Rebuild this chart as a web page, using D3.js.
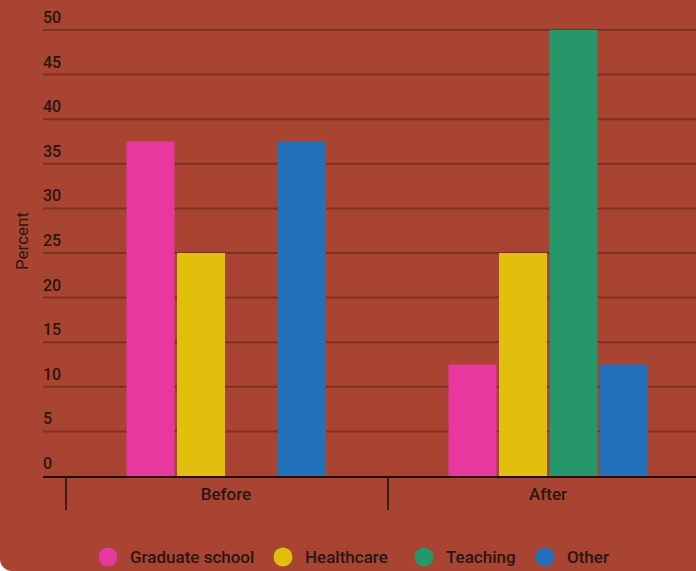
<!DOCTYPE html>
<html>
<head>
<meta charset="utf-8">
<script src="https://cdn.jsdelivr.net/npm/d3@7"></script>
<style>
  html, body { margin: 0; padding: 0; background: #ffffff; }
  svg { display: block; font-family: Roboto, "Noto Sans", sans-serif; }
</style>
</head>
<body>
<svg id="chart" width="696" height="571"></svg>
<script>
const categories = ["Before", "After"];
const seriesNames = ["Graduate school", "Healthcare", "Teaching", "Other"];
const graduateSchool = [37.5, 12.5];
const healthcare = [25, 25];
const teaching = [0, 50];
const other = [37.5, 12.5];
const yTicks = [0, 5, 10, 15, 20, 25, 30, 35, 40, 45, 50];
const colors = ["#e8389f", "#e1c00d", "#25976a", "#2271ba"];

const seriesValues = [graduateSchool, healthcare, teaching, other];

const W = 696, H = 571;
const svg = d3.select("#chart");

// background with rounded bottom-left corner
svg.append("rect").attr("x", 0).attr("y", -30).attr("width", W + 30).attr("height", H + 30)
  .attr("rx", 12).attr("fill", "#a84431");

const y = d3.scaleLinear().domain([0, 50]).range([476, 30]);
const x0 = d3.scaleBand().domain(categories).range([66, 710]).padding(0);
const x1 = d3.scaleBand().domain(seriesNames).range([60.5, 260]).paddingInner(0.05).paddingOuter(0);

const textColor = "#2b1610";

// gridlines
svg.append("g").selectAll("line").data(yTicks.filter(d => d > 0)).join("line")
  .attr("x1", 43).attr("x2", W)
  .attr("y1", d => y(d)).attr("y2", d => y(d))
  .attr("stroke", "#80301f").attr("stroke-width", 2);

// y tick labels
svg.append("g").selectAll("text").data(yTicks).join("text")
  .attr("x", 43).attr("y", d => y(d) - 7)
  .attr("font-size", 16).attr("font-weight", 500).attr("fill", textColor)
  .text(d => d);

// y axis title
svg.append("text")
  .attr("transform", "translate(28,241) rotate(-90)")
  .attr("text-anchor", "middle").attr("font-size", 17).attr("fill", textColor)
  .text("Percent");

// bars
const groups = svg.append("g").selectAll("g").data(categories).join("g")
  .attr("transform", d => `translate(${x0(d)},0)`);
groups.selectAll("rect")
  .data((c, ci) => seriesNames.map((s, si) => ({ s, si, v: seriesValues[si][ci] })))
  .join("rect")
  .attr("x", d => x1(d.s))
  .attr("width", x1.bandwidth())
  .attr("y", d => y(d.v))
  .attr("height", d => y(0) - y(d.v))
  .attr("fill", d => colors[d.si]);

// x axis
svg.append("line").attr("x1", 43).attr("x2", W).attr("y1", 477).attr("y2", 477)
  .attr("stroke", "#1e0f0a").attr("stroke-width", 2);
svg.append("g").selectAll("line").data(categories).join("line")
  .attr("x1", d => x0(d)).attr("x2", d => x0(d))
  .attr("y1", 477).attr("y2", 510)
  .attr("stroke", "#1e0f0a").attr("stroke-width", 1.5);
svg.append("g").selectAll("text").data(categories).join("text")
  .attr("x", d => x0(d) + 160).attr("y", 500)
  .attr("text-anchor", "middle").attr("font-size", 17).attr("font-weight", 500).attr("fill", textColor)
  .text(d => d);

// legend
const legendX = [108, 283, 424, 545];
const legend = svg.append("g").selectAll("g").data(seriesNames).join("g")
  .attr("transform", (d, i) => `translate(${legendX[i]},557)`);
legend.append("circle").attr("r", 9.5).attr("fill", (d, i) => colors[i]);
legend.append("text").attr("x", 22).attr("y", 6)
  .attr("font-size", 17).attr("font-weight", 500).attr("fill", textColor)
  .text(d => d);
</script>
</body>
</html>
